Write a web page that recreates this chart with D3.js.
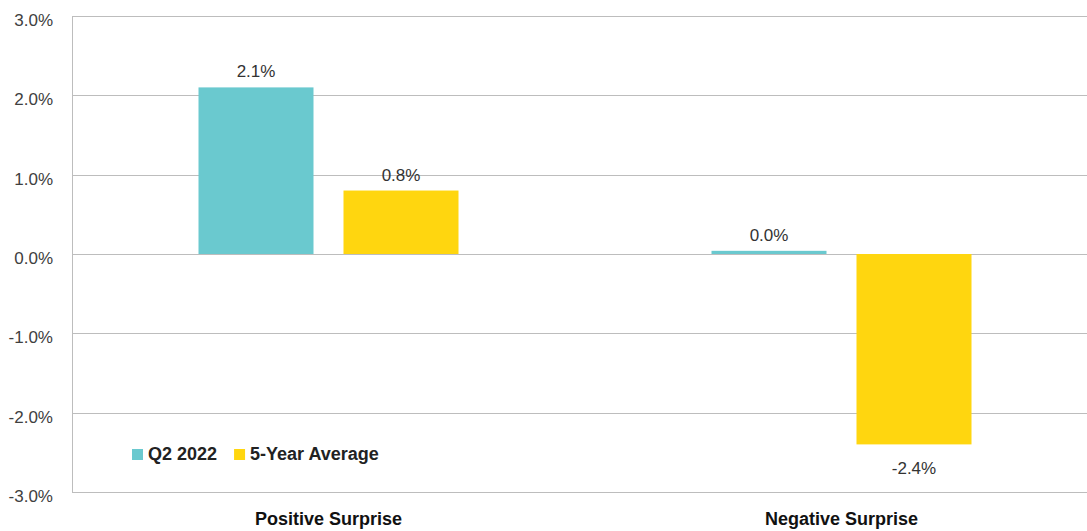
<!DOCTYPE html>
<html>
<head>
<meta charset="utf-8">
<script src="https://cdn.jsdelivr.net/npm/d3@7"></script>
<style>
  body { margin: 0; background: #fff; }
  text { font-family: "Liberation Sans", Arial, sans-serif; }
</style>
</head>
<body>
<svg id="viz"></svg>
<script>
// ----------------------- DATA
const categories = ['Positive Surprise', 'Negative Surprise'];
const seriesNames = ['Q2 2022', '5-Year Average'];
const q2Values = [2.1, 0.04];
const avgValues = [0.8, -2.4];
const valueLabels = [['2.1%', '0.8%'], ['0.0%', '-2.4%']];
const yTicks = [3, 2, 1, 0, -1, -2, -3];
const yTickLabels = ['3.0%', '2.0%', '1.0%', '0.0%', '-1.0%', '-2.0%', '-3.0%'];

const colors = { 'Q2 2022': '#6ac9cf', '5-Year Average': '#ffd60f' };

// ----------------------- SETTINGS
const width = 1087, height = 531;
const margin = { top: 16, left: 72, bottom: 39, right: -11 };

const svg = d3.select('#viz')
  .attr('width', width)
  .attr('height', height);

// ----------------------- SCALES
const x0 = d3.scaleBand()
  .domain(categories)
  .range([margin.left, width - margin.right]);

const groupW = 260;
const x1 = d3.scaleBand()
  .domain(seriesNames)
  .range([x0.bandwidth() / 2 - groupW / 2, x0.bandwidth() / 2 + groupW / 2])
  .paddingInner(30 / 145);

const y = d3.scaleLinear()
  .domain([-3, 3])
  .range([height - margin.bottom, margin.top]);

// ----------------------- GRID + AXIS
svg.append('g')
  .selectAll('line')
  .data(yTicks)
  .enter().append('line')
  .attr('x1', margin.left)
  .attr('x2', width)
  .attr('y1', d => Math.round(y(d)) + 0.5)
  .attr('y2', d => Math.round(y(d)) + 0.5)
  .attr('stroke', '#bdbdbd')
  .attr('stroke-width', 1);

svg.append('line')
  .attr('x1', margin.left + 0.5)
  .attr('x2', margin.left + 0.5)
  .attr('y1', y(3))
  .attr('y2', y(-3))
  .attr('stroke', '#bdbdbd');

svg.append('g')
  .selectAll('text')
  .data(yTicks)
  .enter().append('text')
  .attr('x', 53)
  .attr('y', d => y(d) + 10)
  .attr('text-anchor', 'end')
  .attr('font-size', 17)
  .attr('fill', '#404040')
  .text((d, i) => yTickLabels[i]);

// ----------------------- BARS
const rows = categories.map((c, i) => ({
  cat: c,
  vals: [
    { name: seriesNames[0], v: q2Values[i], label: valueLabels[i][0] },
    { name: seriesNames[1], v: avgValues[i], label: valueLabels[i][1] }
  ]
}));

const groups = svg.selectAll('.grp')
  .data(rows)
  .enter().append('g')
  .attr('class', 'grp')
  .attr('transform', d => `translate(${x0(d.cat)},0)`);

groups.selectAll('rect')
  .data(d => d.vals)
  .enter().append('rect')
  .attr('x', d => x1(d.name))
  .attr('width', x1.bandwidth())
  .attr('y', d => y(Math.max(0, d.v)))
  .attr('height', d => Math.abs(y(d.v) - y(0)))
  .attr('fill', d => colors[d.name]);

groups.selectAll('.lbl')
  .data(d => d.vals)
  .enter().append('text')
  .attr('class', 'lbl')
  .attr('x', d => x1(d.name) + x1.bandwidth() / 2)
  .attr('y', d => d.v >= 0 ? y(d.v) - 10 : y(d.v) + 30)
  .attr('text-anchor', 'middle')
  .attr('font-size', 17)
  .attr('fill', '#333')
  .text(d => d.label);

// category labels
svg.append('g')
  .selectAll('text')
  .data(categories)
  .enter().append('text')
  .attr('x', d => x0(d) + x0.bandwidth() / 2)
  .attr('y', 525)
  .attr('text-anchor', 'middle')
  .attr('font-size', 18)
  .attr('font-weight', 'bold')
  .attr('fill', '#111')
  .text(d => d);

// ----------------------- LEGEND
const legend = svg.append('g')
  .attr('transform', 'translate(132,449)');

let lx = 0;
seriesNames.forEach(name => {
  const g = legend.append('g').attr('transform', `translate(${lx},0)`);
  g.append('rect')
    .attr('width', 11)
    .attr('height', 11)
    .attr('fill', colors[name]);
  const t = g.append('text')
    .attr('x', 16)
    .attr('y', 11)
    .attr('font-size', 18)
    .attr('font-weight', 'bold')
    .attr('fill', '#222')
    .text(name);
  lx += 16 + t.node().getComputedTextLength() + 17;
});
</script>
</body>
</html>
